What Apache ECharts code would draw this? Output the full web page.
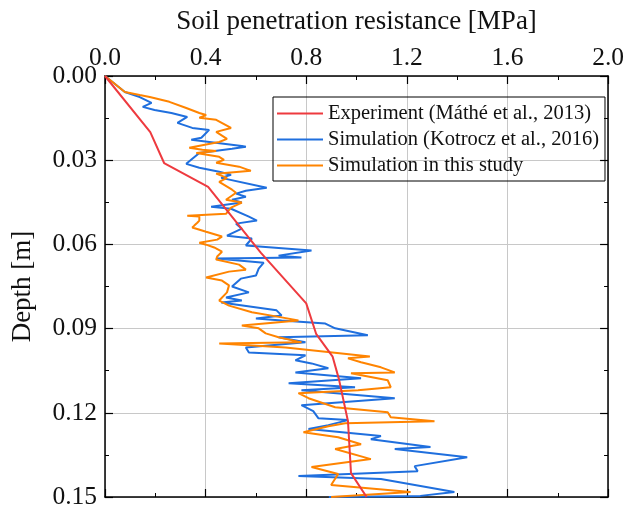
<!DOCTYPE html>
<html>
<head>
<meta charset="utf-8">
<script src="https://cdn.jsdelivr.net/npm/echarts@6/dist/echarts.min.js"></script>
<style>
html,body{margin:0;padding:0;background:#fff;}
#chart{width:627px;height:510px;}
</style>
</head>
<body>
<div id="chart"></div>
<script>
// Experiment (Máthé et al., 2013)
const expDepth = [0, 0.020, 0.031, 0.0395, 0.063, 0.081, 0.092, 0.100, 0.108, 0.123, 0.1415, 0.150];
const expValue = [0, 0.180, 0.235, 0.410, 0.620, 0.800, 0.840, 0.905, 0.930, 0.966, 0.978, 1.040];

// Simulation (Kotrocz et al., 2016)
const kotDepth = [0, 0.0057, 0.0075, 0.0096, 0.0110, 0.0121, 0.0132, 0.0146, 0.0167, 0.0185, 0.0192, 0.0210, 0.0220, 0.0227,
  0.0249, 0.0252, 0.0259, 0.0274, 0.0313, 0.0327, 0.0341, 0.0352, 0.0363, 0.0398, 0.0409, 0.0419, 0.0430, 0.0441, 0.0451,
  0.0466, 0.0473, 0.0501, 0.0515, 0.0526, 0.0544, 0.0569, 0.0579, 0.0604, 0.0622, 0.0640, 0.0647, 0.0650, 0.0665, 0.0686,
  0.0711, 0.0722, 0.0750, 0.0771, 0.0789, 0.0800, 0.0807, 0.0835, 0.0853, 0.0864, 0.0871, 0.0882, 0.0899, 0.0924, 0.0931,
  0.0949, 0.0967, 0.0985, 0.0995, 0.1013, 0.1024, 0.1041, 0.1056, 0.1077, 0.1095, 0.1109, 0.1120, 0.1148, 0.1173, 0.1194,
  0.1219, 0.1226, 0.1244, 0.1258, 0.1283, 0.1294, 0.1322, 0.1329, 0.1358, 0.1390, 0.1408, 0.1425, 0.1436, 0.1482, 0.1496, 0.1500];
const kotValue = [0, 0.079, 0.138, 0.185, 0.150, 0.197, 0.264, 0.327, 0.288, 0.347, 0.414, 0.394, 0.383, 0.343,
  0.544, 0.560, 0.505, 0.375, 0.323, 0.375, 0.454, 0.501, 0.462, 0.643, 0.560, 0.521, 0.560, 0.505, 0.544,
  0.422, 0.501, 0.572, 0.604, 0.521, 0.544, 0.485, 0.584, 0.560, 0.821, 0.690, 0.781, 0.442, 0.631, 0.611,
  0.600, 0.540, 0.505, 0.572, 0.481, 0.544, 0.462, 0.682, 0.702, 0.600, 0.702, 0.876, 0.915, 1.045, 0.690,
  0.797, 0.560, 0.572, 0.797, 0.757, 0.821, 0.888, 0.757, 1.018, 0.730, 0.994, 0.781, 1.152, 0.781, 0.828,
  0.848, 0.966, 0.888, 0.809, 1.097, 1.057, 1.294, 1.152, 1.440, 1.231, 1.243, 0.769, 1.097, 1.389, 1.254, 0.890];

// Simulation in this study
const thisDepth = [0, 0.0057, 0.0068, 0.0075, 0.0092, 0.0114, 0.0132, 0.0139, 0.0149, 0.0156, 0.0185, 0.0199, 0.0224, 0.0235,
  0.0256, 0.0263, 0.0267, 0.0274, 0.0288, 0.0299, 0.0309, 0.0323, 0.0338, 0.0348, 0.0363, 0.0377, 0.0405, 0.0416, 0.0441,
  0.0451, 0.0469, 0.0491, 0.0498, 0.0501, 0.0515, 0.0523, 0.0533, 0.0540, 0.0555, 0.0572, 0.0583, 0.0594, 0.0601, 0.0611,
  0.0626, 0.0643, 0.0654, 0.0672, 0.0690, 0.0697, 0.0718, 0.0729, 0.0746, 0.0771, 0.0800, 0.0818, 0.0842, 0.0860, 0.0871,
  0.0889, 0.0899, 0.0917, 0.0931, 0.0949, 0.0953, 0.0967, 0.0999, 0.1006, 0.1020, 0.1038, 0.1056, 0.1059, 0.1084, 0.1109,
  0.1120, 0.1130, 0.1148, 0.1180, 0.1198, 0.1216, 0.1230, 0.1237, 0.1248, 0.1269, 0.1287, 0.1312, 0.1329, 0.1365, 0.1393,
  0.1418, 0.1457, 0.1482, 0.1500];
const thisValue = [0, 0.079, 0.138, 0.178, 0.256, 0.323, 0.375, 0.402, 0.375, 0.442, 0.501, 0.442, 0.485, 0.454,
  0.335, 0.387, 0.442, 0.363, 0.454, 0.473, 0.442, 0.533, 0.580, 0.442, 0.485, 0.454, 0.505, 0.521, 0.481,
  0.544, 0.501, 0.481, 0.327, 0.375, 0.375, 0.367, 0.355, 0.347, 0.402, 0.465, 0.446, 0.375, 0.402, 0.434,
  0.465, 0.446, 0.442, 0.533, 0.560, 0.493, 0.402, 0.465, 0.493, 0.485, 0.454, 0.493, 0.584, 0.702, 0.769,
  0.544, 0.611, 0.639, 0.690, 0.781, 0.454, 0.718, 1.053, 0.966, 1.018, 1.097, 1.152, 0.978, 1.124, 1.136,
  1.006, 0.769, 0.809, 0.915, 1.124, 1.136, 1.310, 0.955, 0.888, 0.789, 0.927, 1.018, 0.915, 1.057, 0.821,
  0.927, 0.899, 1.215, 0.899];

const xTicks = [0, 0.4, 0.8, 1.2, 1.6, 2.0];
const yTicks = [0, 0.03, 0.06, 0.09, 0.12, 0.15];

const names = ['Experiment (Máthé et al., 2013)', 'Simulation (Kotrocz et al., 2016)', 'Simulation in this study'];
const xTitle = 'Soil penetration resistance [MPa]';
const yTitle = 'Depth [m]';
const FONT = "'Liberation Serif', 'Times New Roman', serif";

function pairs(vals, deps) { return vals.map((v, i) => [v, deps[i]]); }

const chart = echarts.init(document.getElementById('chart'), null, {renderer: 'canvas'});

const baseX = {
  type: 'value', min: xTicks[0], max: xTicks[xTicks.length - 1], interval: 0.4,
  axisLine: {show: true, onZero: false, lineStyle: {color: '#000', width: 1.5}},
  axisTick: {show: true, inside: true, length: 8, lineStyle: {color: '#000', width: 1.2}},
  minorTick: {show: true, splitNumber: 2, length: 4, lineStyle: {color: '#000', width: 1}},
};
const baseY = {
  type: 'value', inverse: true, min: yTicks[0], max: yTicks[yTicks.length - 1], interval: 0.03,
  axisLine: {show: true, onZero: false, lineStyle: {color: '#000', width: 1.5}},
  axisTick: {show: true, inside: true, length: 8, lineStyle: {color: '#000', width: 1.2}},
  minorTick: {show: true, splitNumber: 2, length: 4, lineStyle: {color: '#000', width: 1}},
};

chart.setOption({
  animation: false,
  backgroundColor: '#fff',
  textStyle: {fontFamily: FONT},
  grid: {left: 105, right: 15, top: 76, bottom: 12, containLabel: false},
  legend: {
    orient: 'vertical', left: 273, top: 97,
    data: names,
    icon: 'rect', itemWidth: 46, itemHeight: 2, itemGap: 5,
    padding: [6, 6, 5, 4],
    borderColor: '#000', borderWidth: 1,
    textStyle: {fontFamily: FONT, fontSize: 20.5, color: '#111', lineHeight: 21},
  },
  xAxis: [
    Object.assign({}, baseX, {
      position: 'top',
      name: xTitle, nameLocation: 'middle', nameGap: 41,
      nameTextStyle: {fontFamily: FONT, fontSize: 27, color: '#111'},
      axisLabel: {show: true, margin: 5, fontFamily: FONT, fontSize: 25.5, color: '#111',
        formatter: v => v.toFixed(1)},
      splitLine: {show: true, lineStyle: {color: '#c8c8c8', width: 1}},
    }),
    Object.assign({}, baseX, {
      position: 'bottom', axisLabel: {show: false}, splitLine: {show: false},
    }),
  ],
  yAxis: [
    Object.assign({}, baseY, {
      position: 'left',
      name: yTitle, nameLocation: 'middle', nameGap: 69,
      nameTextStyle: {fontFamily: FONT, fontSize: 27, color: '#111'},
      axisLabel: {show: true, margin: 8, fontFamily: FONT, fontSize: 25.5, color: '#111',
        formatter: v => v.toFixed(2)},
      splitLine: {show: true, lineStyle: {color: '#c8c8c8', width: 1}},
    }),
    Object.assign({}, baseY, {
      position: 'right', axisLabel: {show: false}, splitLine: {show: false},
    }),
  ],
  series: [
    {name: names[1], type: 'line', xAxisIndex: 0, yAxisIndex: 0, data: pairs(kotValue, kotDepth),
      showSymbol: false, symbol: 'none', lineStyle: {color: '#1f6fde', width: 2}, itemStyle: {color: '#1f6fde'}, z: 2},
    {name: names[2], type: 'line', xAxisIndex: 0, yAxisIndex: 0, data: pairs(thisValue, thisDepth),
      showSymbol: false, symbol: 'none', lineStyle: {color: '#ff8400', width: 2}, itemStyle: {color: '#ff8400'}, z: 3},
    {name: names[0], type: 'line', xAxisIndex: 0, yAxisIndex: 0, data: pairs(expValue, expDepth),
      showSymbol: false, symbol: 'none', lineStyle: {color: '#ee3a3f', width: 2}, itemStyle: {color: '#ee3a3f'}, z: 4},
  ],
});
</script>
</body>
</html>
